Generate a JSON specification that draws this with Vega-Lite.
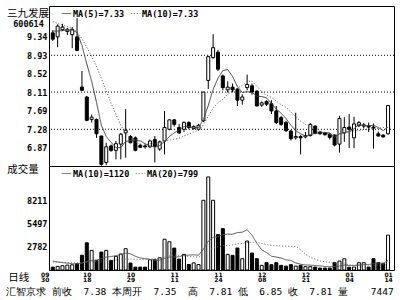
{
  "$schema": "https://vega.github.io/schema/vega-lite/v6.json",
  "background": "white",
  "padding": {"left": 5, "top": 5, "right": 7, "bottom": 2},
  "spacing": 0,
  "bounds": "flush",
  "config": {
    "view": {"stroke": "black", "strokeWidth": 1},
    "font": "DejaVu Sans Mono"
  },
  "resolve": {
    "scale": {"x": "independent", "y": "independent", "strokeDash": "independent"},
    "legend": {"strokeDash": "independent"}
  },
  "datasets": {
    "k": [
      {"d":"09/30","o":9.43,"h":9.49,"l":9.25,"c":9.29,"v":340,"ma5":9.47,"ma10":9.68,"vma10":1050,"vma20":950},
      {"d":"10/08","o":9.34,"h":9.62,"l":9.11,"c":9.58,"v":430,"ma5":9.47,"ma10":9.64,"vma10":960,"vma20":930},
      {"d":"10/11","o":9.50,"h":9.63,"l":9.47,"c":9.56,"v":510,"ma5":9.48,"ma10":9.60,"vma10":880,"vma20":905},
      {"d":"10/12","o":9.46,"h":9.54,"l":9.38,"c":9.51,"v":580,"ma5":9.49,"ma10":9.57,"vma10":810,"vma20":880},
      {"d":"10/13","o":9.39,"h":9.56,"l":9.09,"c":9.51,"v":620,"ma5":9.49,"ma10":9.53,"vma10":750,"vma20":860},
      {"d":"10/14","o":9.34,"h":9.76,"l":9.02,"c":9.04,"v":750,"ma5":9.44,"ma10":9.45,"vma10":720,"vma20":850},
      {"d":"10/15","o":8.22,"h":8.58,"l":8.14,"c":8.15,"v":1750,"ma5":9.15,"ma10":9.30,"vma10":820,"vma20":870},
      {"d":"10/18","o":8.00,"h":8.02,"l":7.46,"c":7.48,"v":3230,"ma5":8.74,"ma10":9.11,"vma10":1040,"vma20":930},
      {"d":"10/19","o":7.50,"h":7.61,"l":7.43,"c":7.55,"v":2330,"ma5":8.35,"ma10":8.90,"vma10":1140,"vma20":990},
      {"d":"10/20","o":7.50,"h":7.52,"l":7.09,"c":7.18,"v":1140,"ma5":7.88,"ma10":8.69,"vma10":1168,"vma20":1030},
      {"d":"10/21","o":7.13,"h":7.14,"l":6.47,"c":6.50,"v":2130,"ma5":7.37,"ma10":8.41,"vma10":1347,"vma20":1080},
      {"d":"10/22","o":6.54,"h":6.98,"l":6.48,"c":6.89,"v":2330,"ma5":7.12,"ma10":8.14,"vma10":1537,"vma20":1130},
      {"d":"10/25","o":6.91,"h":6.94,"l":6.78,"c":6.81,"v":1140,"ma5":6.99,"ma10":7.86,"vma10":1600,"vma20":1160},
      {"d":"10/26","o":6.81,"h":7.02,"l":6.61,"c":6.96,"v":1620,"ma5":6.87,"ma10":7.61,"vma10":1704,"vma20":1200},
      {"d":"10/27","o":6.95,"h":7.20,"l":6.61,"c":7.17,"v":1900,"ma5":6.87,"ma10":7.37,"vma10":1832,"vma20":1240},
      {"d":"10/28","o":7.20,"h":7.73,"l":6.65,"c":7.26,"v":2530,"ma5":7.01,"ma10":7.19,"vma10":2010,"vma20":1300},
      {"d":"10/29","o":7.12,"h":7.15,"l":6.97,"c":6.98,"v":820,"ma5":7.03,"ma10":7.08,"vma10":1917,"vma20":1300},
      {"d":"11/01","o":7.09,"h":7.12,"l":6.79,"c":6.81,"v":340,"ma5":7.04,"ma10":7.01,"vma10":1628,"vma20":1280},
      {"d":"11/02","o":6.92,"h":6.96,"l":6.86,"c":6.88,"v":340,"ma5":7.02,"ma10":6.94,"vma10":1429,"vma20":1270},
      {"d":"11/03","o":6.91,"h":6.95,"l":6.85,"c":6.89,"v":340,"ma5":6.96,"ma10":6.91,"vma10":1349,"vma20":1259},
      {"d":"11/04","o":6.89,"h":7.05,"l":6.86,"c":7.02,"v":1220,"ma5":6.91,"ma10":6.96,"vma10":1258,"vma20":1303},
      {"d":"11/05","o":7.05,"h":7.13,"l":6.54,"c":6.90,"v":1220,"ma5":6.88,"ma10":6.96,"vma10":1147,"vma20":1342},
      {"d":"11/08","o":6.84,"h":7.03,"l":6.80,"c":7.00,"v":1450,"ma5":6.92,"ma10":6.98,"vma10":1178,"vma20":1389},
      {"d":"11/09","o":7.02,"h":7.69,"l":6.72,"c":7.32,"v":3650,"ma5":7.00,"ma10":7.01,"vma10":1381,"vma20":1543},
      {"d":"11/10","o":7.28,"h":7.50,"l":7.26,"c":7.49,"v":3350,"ma5":7.12,"ma10":7.04,"vma10":1526,"vma20":1679},
      {"d":"11/11","o":7.49,"h":7.51,"l":7.34,"c":7.39,"v":2600,"ma5":7.20,"ma10":7.06,"vma10":1533,"vma20":1772},
      {"d":"11/12","o":7.32,"h":7.40,"l":7.18,"c":7.20,"v":1300,"ma5":7.27,"ma10":7.08,"vma10":1581,"vma20":1749},
      {"d":"11/15","o":7.28,"h":7.46,"l":7.22,"c":7.43,"v":1850,"ma5":7.34,"ma10":7.13,"vma10":1732,"vma20":1680},
      {"d":"11/16","o":7.43,"h":7.46,"l":7.28,"c":7.32,"v":650,"ma5":7.34,"ma10":7.17,"vma10":1763,"vma20":1596},
      {"d":"11/17","o":7.30,"h":7.37,"l":7.27,"c":7.34,"v":850,"ma5":7.31,"ma10":7.22,"vma10":1814,"vma20":1582},
      {"d":"11/18","o":7.28,"h":7.40,"l":7.25,"c":7.37,"v":650,"ma5":7.32,"ma10":7.26,"vma10":1757,"vma20":1508},
      {"d":"11/19","o":7.47,"h":8.12,"l":7.44,"c":8.11,"v":8280,"ma5":7.50,"ma10":7.38,"vma10":2463,"vma20":1805},
      {"d":"11/22","o":8.37,"h":8.92,"l":8.18,"c":8.90,"v":11050,"ma5":7.81,"ma10":7.57,"vma10":3423,"vma20":2301},
      {"d":"11/23","o":8.88,"h":9.40,"l":8.85,"c":9.10,"v":8280,"ma5":8.17,"ma10":7.75,"vma10":3886,"vma20":2634},
      {"d":"11/24","o":9.00,"h":9.05,"l":8.58,"c":8.62,"v":4200,"ma5":8.42,"ma10":7.87,"vma10":3971,"vma20":2749},
      {"d":"11/25","o":8.47,"h":8.50,"l":8.15,"c":8.21,"v":4910,"ma5":8.59,"ma10":7.95,"vma10":4202,"vma20":2868},
      {"d":"11/26","o":8.16,"h":8.35,"l":8.10,"c":8.22,"v":1850,"ma5":8.61,"ma10":8.06,"vma10":4257,"vma20":2919},
      {"d":"11/29","o":8.22,"h":8.30,"l":8.10,"c":8.16,"v":1740,"ma5":8.46,"ma10":8.14,"vma10":4246,"vma20":2989},
      {"d":"11/30","o":8.17,"h":8.20,"l":7.80,"c":7.93,"v":2610,"ma5":8.23,"ma10":8.20,"vma10":4442,"vma20":3103},
      {"d":"12/01","o":7.93,"h":8.06,"l":7.83,"c":8.00,"v":1340,"ma5":8.10,"ma10":8.26,"vma10":4491,"vma20":3153},
      {"d":"12/02","o":8.21,"h":8.50,"l":8.15,"c":8.28,"v":3440,"ma5":8.12,"ma10":8.35,"vma10":4770,"vma20":3264},
      {"d":"12/06","o":8.25,"h":8.30,"l":8.05,"c":8.11,"v":2010,"ma5":8.10,"ma10":8.35,"vma10":4143,"vma20":3303},
      {"d":"12/07","o":8.13,"h":8.15,"l":7.79,"c":7.80,"v":1340,"ma5":8.02,"ma10":8.24,"vma10":3172,"vma20":3298},
      {"d":"12/08","o":7.82,"h":7.90,"l":7.78,"c":7.87,"v":550,"ma5":8.01,"ma10":8.12,"vma10":2399,"vma20":3143},
      {"d":"12/09","o":7.90,"h":7.93,"l":7.80,"c":7.84,"v":870,"ma5":7.98,"ma10":8.04,"vma10":2066,"vma20":3019},
      {"d":"12/10","o":7.85,"h":7.93,"l":7.62,"c":7.69,"v":630,"ma5":7.86,"ma10":7.99,"vma10":1638,"vma20":2920},
      {"d":"12/13","o":7.69,"h":7.80,"l":7.40,"c":7.43,"v":870,"ma5":7.73,"ma10":7.91,"vma10":1540,"vma20":2899},
      {"d":"12/14","o":7.54,"h":7.58,"l":7.36,"c":7.39,"v":550,"ma5":7.64,"ma10":7.83,"vma10":1421,"vma20":2834},
      {"d":"12/15","o":7.43,"h":7.47,"l":7.22,"c":7.25,"v":460,"ma5":7.52,"ma10":7.77,"vma10":1206,"vma20":2824},
      {"d":"12/16","o":7.24,"h":7.27,"l":7.03,"c":7.07,"v":630,"ma5":7.37,"ma10":7.67,"vma10":1135,"vma20":2813},
      {"d":"12/17","o":7.09,"h":7.65,"l":7.05,"c":7.12,"v":460,"ma5":7.25,"ma10":7.56,"vma10":837,"vma20":2804},
      {"d":"12/20","o":7.12,"h":7.15,"l":6.72,"c":7.09,"v":550,"ma5":7.18,"ma10":7.46,"vma10":691,"vma20":2417},
      {"d":"12/21","o":7.11,"h":7.22,"l":7.08,"c":7.14,"v":400,"ma5":7.13,"ma10":7.39,"vma10":597,"vma20":1885},
      {"d":"12/22","o":7.14,"h":7.42,"l":7.12,"c":7.39,"v":400,"ma5":7.16,"ma10":7.34,"vma10":582,"vma20":1491},
      {"d":"12/23","o":7.35,"h":7.37,"l":7.17,"c":7.19,"v":350,"ma5":7.19,"ma10":7.28,"vma10":530,"vma20":1298},
      {"d":"12/24","o":7.22,"h":7.24,"l":7.16,"c":7.18,"v":230,"ma5":7.20,"ma10":7.23,"vma10":490,"vma20":1064},
      {"d":"12/27","o":7.20,"h":7.22,"l":7.14,"c":7.16,"v":230,"ma5":7.21,"ma10":7.20,"vma10":426,"vma20":983},
      {"d":"12/28","o":7.17,"h":7.19,"l":7.05,"c":7.10,"v":230,"ma5":7.20,"ma10":7.17,"vma10":394,"vma20":908},
      {"d":"12/29","o":7.15,"h":7.17,"l":6.90,"c":6.93,"v":870,"ma5":7.11,"ma10":7.14,"vma10":435,"vma20":821},
      {"d":"12/30","o":6.95,"h":7.58,"l":6.76,"c":7.52,"v":1060,"ma5":7.18,"ma10":7.18,"vma10":478,"vma20":807},
      {"d":"12/31","o":7.20,"h":7.55,"l":7.00,"c":7.32,"v":1330,"ma5":7.21,"ma10":7.20,"vma10":565,"vma20":701},
      {"d":"01/04","o":7.33,"h":7.62,"l":6.86,"c":7.28,"v":330,"ma5":7.23,"ma10":7.22,"vma10":543,"vma20":617},
      {"d":"01/05","o":7.09,"h":7.56,"l":6.86,"c":7.40,"v":350,"ma5":7.29,"ma10":7.25,"vma10":538,"vma20":568},
      {"d":"01/06","o":7.36,"h":7.46,"l":7.33,"c":7.43,"v":870,"ma5":7.39,"ma10":7.25,"vma10":585,"vma20":584},
      {"d":"01/07","o":7.35,"h":7.42,"l":7.30,"c":7.38,"v":870,"ma5":7.36,"ma10":7.27,"vma10":637,"vma20":584},
      {"d":"01/10","o":7.35,"h":7.43,"l":7.22,"c":7.33,"v":350,"ma5":7.36,"ma10":7.29,"vma10":649,"vma20":570},
      {"d":"01/11","o":7.33,"h":7.41,"l":6.85,"c":7.31,"v":1340,"ma5":7.37,"ma10":7.30,"vma10":760,"vma20":593},
      {"d":"01/12","o":7.18,"h":7.23,"l":7.12,"c":7.13,"v":870,"ma5":7.32,"ma10":7.30,"vma10":824,"vma20":609},
      {"d":"01/13","o":7.15,"h":7.17,"l":7.10,"c":7.11,"v":750,"ma5":7.25,"ma10":7.32,"vma10":812,"vma20":624},
      {"d":"01/14","o":7.18,"h":7.81,"l":7.16,"c":7.81,"v":4140,"ma5":7.33,"ma10":7.33,"vma10":1120,"vma20":799}
    ]
  },
  "vconcat": [
    {
      "width": 345,
      "height": 160,
      "layer": [
        {
          "data": {"values": [{"g": 8.93}, {"g": 8.11}, {"g": 7.28}]},
          "mark": {"type": "rule", "color": "black", "strokeWidth": 1, "strokeDash": [1, 2]},
          "encoding": {
            "y": {"field": "g", "type": "quantitative"}
          }
        },
        {
          "data": {"name": "k"},
          "mark": {"type": "rule", "color": "black", "strokeWidth": 1},
          "encoding": {
            "x": {
              "field": "d", "type": "ordinal", "sort": null,
              "scale": {"type": "point", "padding": 1.062, "align": 0.388},
              "axis": {
                "orient": "top", "labels": false, "ticks": false, "domain": false, "grid": false,
                "title": "600614", "titleX": -21, "titleY": 17, "titleAngle": 0,
                "titleAlign": "center", "titleBaseline": "middle",
                "titleFont": "DejaVu Sans Mono", "titleFontSize": 8.5, "titleFontWeight": "bold", "titleColor": "black"
              }
            },
            "y": {
              "field": "l", "type": "quantitative",
              "scale": {"domain": [6.462, 10.029], "zero": false, "nice": false},
              "axis": {
                "values": [9.34, 8.93, 8.52, 8.11, 7.69, 7.28, 6.87], "format": ".2f", "tickCount": 20,
                "ticks": false, "domain": false, "grid": false, "labelPadding": 2, "labelOverlap": false,
                "labelFont": "DejaVu Sans Mono", "labelFontSize": 8.5, "labelFontWeight": "bold", "labelColor": "black",
                "title": "三九发展", "titleX": -21.5, "titleY": 7.5, "titleAngle": 0,
                "titleAlign": "center", "titleBaseline": "middle",
                "titleFont": "Noto Sans CJK SC", "titleFontSize": 10.5, "titleFontWeight": "normal", "titleColor": "black"
              }
            },
            "y2": {"field": "h"}
          }
        },
        {
          "data": {"name": "k"},
          "mark": {"type": "bar", "size": 3, "stroke": "black", "strokeWidth": 1},
          "encoding": {
            "x": {"field": "d", "type": "ordinal", "sort": null},
            "y": {"field": "o", "type": "quantitative"},
            "y2": {"field": "c"},
            "fill": {"condition": {"test": "datum.c >= datum.o", "value": "white"}, "value": "black"}
          }
        },
        {
          "data": {"name": "k"},
          "mark": {"type": "line", "color": "#404040", "strokeWidth": 1},
          "encoding": {
            "x": {"field": "d", "type": "ordinal", "sort": null},
            "y": {"field": "ma5", "type": "quantitative"},
            "strokeDash": {
              "datum": "MA(5)=7.33",
              "scale": {"domain": ["MA(5)=7.33", "MA(10)=7.33"], "range": [[1, 0], [1, 2]]},
              "legend": {
                "orient": "none", "legendX": 12, "legendY": 2, "direction": "horizontal", "title": null,
                "symbolType": "stroke", "symbolSize": 90, "symbolStrokeWidth": 1, "symbolStrokeColor": "black",
                "labelFont": "DejaVu Sans Mono", "labelFontSize": 8.5, "labelFontWeight": "bold", "labelColor": "black",
                "labelOffset": 1, "columnPadding": 3, "padding": 0
              }
            }
          }
        },
        {
          "data": {"name": "k"},
          "mark": {"type": "line", "color": "#555555", "strokeWidth": 1},
          "encoding": {
            "x": {"field": "d", "type": "ordinal", "sort": null},
            "y": {"field": "ma10", "type": "quantitative"},
            "strokeDash": {"datum": "MA(10)=7.33"}
          }
        }
      ]
    },
    {
      "width": 345,
      "height": 104,
      "data": {"name": "k"},
      "title": {
        "text": "汇智京求\u00a0前收\u00a0\u00a07.38\u00a0本周开\u00a0\u00a07.35\u00a0\u00a0高\u00a0\u00a07.81\u00a0低\u00a0\u00a06.85\u00a0收\u00a0\u00a07.81\u00a0量\u00a0\u00a0\u00a0\u00a07447",
        "orient": "bottom", "anchor": "start", "frame": "group", "dx": -42.7, "offset": 4,
        "font": "DejaVu Sans Mono", "fontSize": 9.5, "fontWeight": "normal", "color": "black"
      },
      "encoding": {
        "x": {
          "field": "d", "type": "ordinal", "sort": null,
          "scale": {"type": "point", "padding": 1.062, "align": 0.388},
          "axis": {
            "orient": "bottom",
            "values": ["09/30", "10/18", "10/29", "11/11", "11/24", "12/08", "12/21", "01/04", "01/14"],
            "labelExpr": "split(datum.value, '/')",
            "labelAngle": 0, "ticks": false, "domain": false, "grid": false, "labelOverlap": false,
            "labelFont": "DejaVu Sans", "labelFontSize": 6, "labelFontWeight": "bold", "labelColor": "black",
            "labelLineHeight": 5.8, "labelPadding": 1,
            "labelOffset": {"condition": {"test": "datum.value == '09/30'", "value": -8}, "value": 0},
            "title": "日线", "titleX": -30.7, "titleY": 7, "titleAngle": 0,
            "titleAlign": "center", "titleBaseline": "middle",
            "titleFont": "Noto Sans CJK SC", "titleFontSize": 10.5, "titleFontWeight": "normal", "titleColor": "black"
          }
        }
      },
      "layer": [
        {
          "mark": {"type": "bar", "size": 3, "stroke": "black", "strokeWidth": 1},
          "encoding": {
            "y": {
              "field": "v", "type": "quantitative",
              "scale": {"domain": [0, 12350], "nice": false},
              "axis": {
                "values": [8211, 5497, 2782], "format": "d", "tickCount": 10,
                "ticks": false, "domain": false, "grid": false, "labelPadding": 2, "labelOverlap": false,
                "labelFont": "DejaVu Sans Mono", "labelFontSize": 8.5, "labelFontWeight": "bold", "labelColor": "black",
                "title": "成交量", "titleX": -26.4, "titleY": 3.5, "titleAngle": 0,
                "titleAlign": "center", "titleBaseline": "middle",
                "titleFont": "Noto Sans CJK SC", "titleFontSize": 10.5, "titleFontWeight": "normal", "titleColor": "black"
              }
            },
            "fill": {"condition": {"test": "datum.c >= datum.o", "value": "white"}, "value": "black"}
          }
        },
        {
          "mark": {"type": "line", "color": "#555555", "strokeWidth": 1},
          "encoding": {
            "y": {"field": "vma10", "type": "quantitative"},
            "strokeDash": {
              "datum": "MA(10)=1120",
              "scale": {"domain": ["MA(10)=1120", "MA(20)=799"], "range": [[1, 0], [1, 2]]},
              "legend": {
                "orient": "none", "legendX": 12, "legendY": 2, "direction": "horizontal", "title": null,
                "symbolType": "stroke", "symbolSize": 90, "symbolStrokeWidth": 1, "symbolStrokeColor": "black",
                "labelFont": "DejaVu Sans Mono", "labelFontSize": 8.5, "labelFontWeight": "bold", "labelColor": "black",
                "labelOffset": 1, "columnPadding": 3, "padding": 0
              }
            }
          }
        },
        {
          "mark": {"type": "line", "color": "#666666", "strokeWidth": 1},
          "encoding": {
            "y": {"field": "vma20", "type": "quantitative"},
            "strokeDash": {"datum": "MA(20)=799"}
          }
        }
      ]
    }
  ]
}
